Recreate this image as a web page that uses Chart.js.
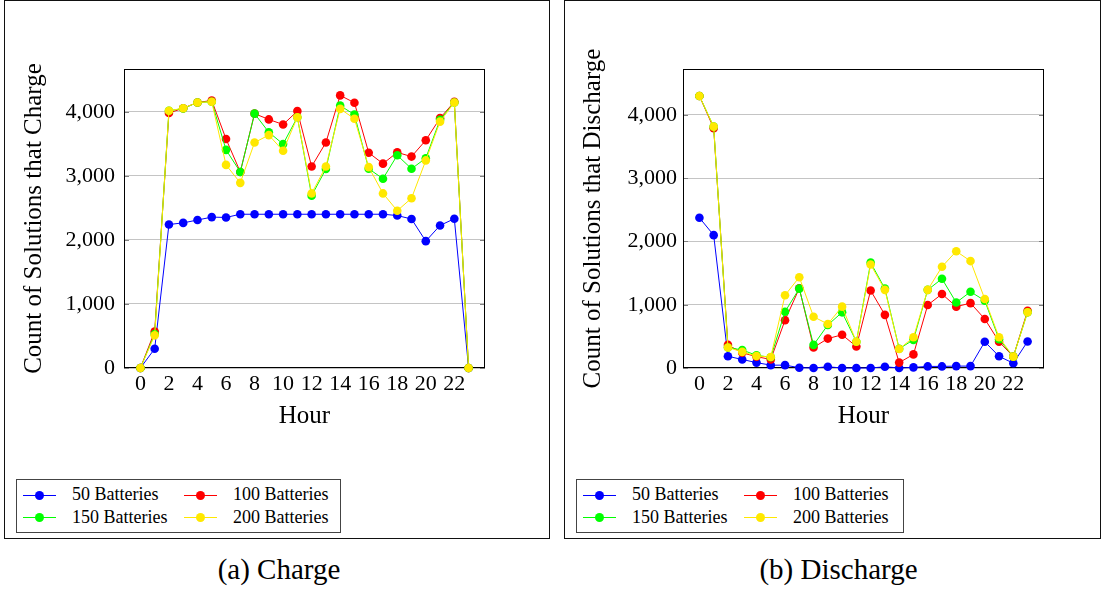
<!DOCTYPE html>
<html>
<head>
<meta charset="utf-8">
<script src="https://cdn.jsdelivr.net/npm/chart.js@4.4.0/dist/chart.umd.min.js"></script>
<style>
  body { margin: 0; width: 1103px; height: 590px; background: #fff; position: relative; overflow: hidden; font-family: 'Liberation Serif', serif; color: #000; }
  .panel { position: absolute; top: 0; height: 537px; border: 1px solid #111; }
  canvas { position: absolute; top: 0; }
  .legend { position: absolute; top: 479px; height: 52px; border: 1px solid #444; background: #fff; }
  .legend .line { position: absolute; height: 1px; }
  .legend .dot { position: absolute; width: 9px; height: 9px; border-radius: 50%; }
  .legend .txt { position: absolute; font-family: 'Liberation Serif', serif; font-size: 18px; line-height: 20px; white-space: nowrap; }
  .caption { position: absolute; top: 555px; font-family: 'Liberation Serif', serif; font-size: 29px; line-height: 29px; text-align: center; }
</style>
</head>
<body>
<div class="panel" style="left:4px; width:544px;"></div>
<div class="panel" style="left:564px; width:535px;"></div>
<canvas id="charge" width="544" height="440" style="left:5px;"></canvas>
<canvas id="discharge" width="534" height="440" style="left:565px;"></canvas>
<div class="legend" id="legend-charge" style="left:16px; width:323px;"></div>
<div class="legend" id="legend-discharge" style="left:576px; width:326px;"></div>
<div class="caption" style="left:0px; width:558px;">(a) Charge</div>
<div class="caption" style="left:564px; width:549px;">(b) Discharge</div>

<script>
// Data
var hours = [0, 1, 2, 3, 4, 5, 6, 7, 8, 9, 10, 11, 12, 13, 14, 15, 16, 17, 18, 19, 20, 21, 22, 23];
var seriesNames = ['50 Batteries', '100 Batteries', '150 Batteries', '200 Batteries'];
var seriesColors = ['#0000ff', '#ff0000', '#00ff00', '#ffe800'];

var charge50 = [0, 300, 2240, 2265, 2310, 2355, 2350, 2400, 2400, 2400, 2400, 2400, 2400, 2400, 2400, 2400, 2400, 2400, 2380, 2325, 1980, 2225, 2330, 0];
var charge100 = [0, 570, 3980, 4055, 4145, 4175, 3575, 3060, 3970, 3880, 3800, 4010, 3145, 3520, 4255, 4140, 3360, 3190, 3365, 3300, 3555, 3900, 4155, 0];
var charge150 = [0, 530, 4015, 4050, 4145, 4155, 3405, 3060, 3970, 3680, 3495, 3915, 2690, 3105, 4095, 3955, 3110, 2955, 3320, 3110, 3275, 3875, 4145, 0];
var charge200 = [0, 510, 4015, 4055, 4145, 4155, 3170, 2890, 3520, 3635, 3390, 3915, 2725, 3145, 4045, 3890, 3135, 2725, 2455, 2650, 3240, 3845, 4145, 0];

var discharge50 = [2375, 2100, 185, 135, 85, 45, 45, 5, 0, 20, 0, 0, 0, 20, 0, 10, 25, 25, 30, 30, 415, 185, 75, 420];
var discharge100 = [4300, 3790, 365, 240, 180, 135, 755, 1260, 325, 465, 525, 340, 1225, 840, 85, 215, 995, 1170, 970, 1025, 775, 415, 180, 905];
var discharge150 = [4300, 3815, 325, 285, 200, 170, 890, 1255, 365, 680, 880, 415, 1665, 1255, 305, 445, 1235, 1410, 1035, 1205, 1065, 455, 180, 880];
var discharge200 = [4300, 3815, 325, 255, 190, 175, 1150, 1435, 810, 695, 970, 415, 1635, 1235, 300, 485, 1235, 1600, 1845, 1690, 1090, 485, 180, 880];

var xTicks = [0, 2, 4, 6, 8, 10, 12, 14, 16, 18, 20, 22];
var yTicks = [0, 1000, 2000, 3000, 4000];

Chart.defaults.font.family = "'Liberation Serif', serif";
Chart.defaults.color = '#000';

// box around the plot area plus the short tick marks at the grid ends, drawn under the markers
var framePlugin = {
  id: 'frame',
  beforeDatasetsDraw: function (chart) {
    var a = chart.chartArea;
    var c = chart.ctx;
    var y = chart.scales.y;
    c.save();
    c.strokeStyle = '#808080';
    c.lineWidth = 1;
    yTicks.forEach(function (v) {
      var py = Math.round(y.getPixelForValue(v)) + 0.5;
      c.beginPath();
      c.moveTo(a.left, py); c.lineTo(a.left + 5, py);
      c.moveTo(a.right - 5, py); c.lineTo(a.right, py);
      c.stroke();
    });
    c.strokeStyle = '#000';
    c.strokeRect(a.left + 0.5, a.top + 0.5, a.right - a.left - 1, a.bottom - a.top - 1);
    c.restore();
  }
};

function makeChart(id, values, yTitle, yMax, yAxisWidth, rightPad, titlePad, labelPad) {
  var datasets = values.map(function (vals, i) {
    return {
      label: seriesNames[i],
      data: hours.map(function (h, k) { return { x: h, y: vals[k] }; }),
      borderColor: seriesColors[i],
      backgroundColor: seriesColors[i],
      borderWidth: 1,
      pointRadius: 4.3,
      pointBorderWidth: 0,
      pointHoverRadius: 4.3,
      tension: 0,
      clip: false,
      order: values.length - i
    };
  });

  return new Chart(document.getElementById(id).getContext('2d'), {
    type: 'line',
    data: { datasets: datasets },
    options: {
      responsive: false,
      animation: false,
      events: [],
      layout: { padding: { top: 69, right: rightPad, left: 0, bottom: 0 } },
      plugins: { legend: { display: false }, tooltip: { enabled: false } },
      scales: {
        x: {
          type: 'linear',
          min: -1.15,
          max: 24.15,
          afterBuildTicks: function (scale) {
            scale.ticks = xTicks.map(function (v) { return { value: v }; });
          },
          afterFit: function (scale) { scale.height = 72; },
          grid: { display: false, drawTicks: false },
          border: { display: false },
          ticks: {
            autoSkip: false,
            maxRotation: 0,
            padding: 3,
            font: { size: 22 },
            callback: function (v) { return String(v); }
          },
          title: { display: true, text: 'Hour', font: { size: 25 }, padding: { top: 0, bottom: 8.5 } }
        },
        y: {
          type: 'linear',
          min: 0,
          max: yMax,
          afterBuildTicks: function (scale) {
            scale.ticks = yTicks.map(function (v) { return { value: v }; });
          },
          afterFit: function (scale) { scale.width = yAxisWidth; },
          grid: { color: '#c4c4c4', lineWidth: 1, drawTicks: false },
          border: { display: false },
          ticks: {
            padding: labelPad,
            font: { size: 22 },
            callback: function (v) { return v.toLocaleString('en-US'); }
          },
          title: { display: true, text: yTitle, font: { size: 25 }, padding: { top: titlePad, bottom: 0 } }
        }
      }
    },
    plugins: [framePlugin]
  });
}

function makeLegend(id) {
  var box = document.getElementById(id);
  var lineLeft = [6, 167];
  var textLeft = [55, 216];
  var rowMid = [15, 37.5];
  seriesNames.forEach(function (name, i) {
    var col = i % 2;
    var row = Math.floor(i / 2);
    var line = document.createElement('div');
    line.className = 'line';
    line.style.left = lineLeft[col] + 'px';
    line.style.width = '33px';
    line.style.top = (rowMid[row] - 0.5) + 'px';
    line.style.background = seriesColors[i];
    box.appendChild(line);

    var dot = document.createElement('div');
    dot.className = 'dot';
    dot.style.left = (lineLeft[col] + 16.5 - 4.5) + 'px';
    dot.style.top = (rowMid[row] - 4.5) + 'px';
    dot.style.background = seriesColors[i];
    box.appendChild(dot);

    var txt = document.createElement('div');
    txt.className = 'txt';
    txt.textContent = name;
    txt.style.left = textLeft[col] + 'px';
    txt.style.top = (rowMid[row] - 11) + 'px';
    box.appendChild(txt);
  });
}

makeChart('charge', [charge50, charge100, charge150, charge200], 'Count of Solutions that Charge', 4667, 119, 64, 14, 9);
makeChart('discharge', [discharge50, discharge100, discharge150, discharge200], 'Count of Solutions that Discharge', 4726, 118, 55, 13.5, 6);
makeLegend('legend-charge');
makeLegend('legend-discharge');
</script>
</body>
</html>
